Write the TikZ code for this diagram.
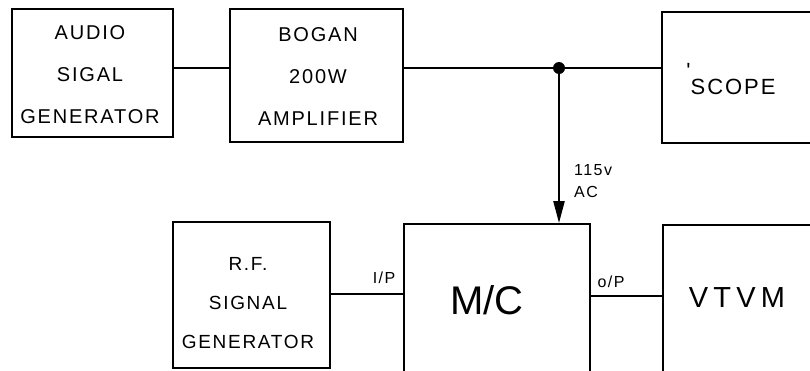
\documentclass[tikz,border=0pt]{standalone}
\usepackage{fontspec}
\setmainfont{Liberation Sans}
\newfontfamily\hand[LetterSpace=9]{Liberation Sans}
\newfontfamily\handwide[LetterSpace=18]{Liberation Sans}
\usetikzlibrary{arrows.meta}
\begin{document}
\begin{tikzpicture}[x=1pt,y=-1pt,
  blk/.style={draw,line width=1.8pt,inner sep=0pt},
  wire/.style={line width=2.8pt},
  lbl/.style={font=\hand\fontsize{20}{42}\selectfont,align=center,inner sep=0pt},
  small/.style={font=\hand\fontsize{16}{22}\selectfont,align=left,inner sep=0pt}]
\clip (0,0) rectangle (810,370);
\fill[white] (0,0) rectangle (810,370);
% boxes
\node[blk,minimum width=161pt,minimum height=128pt] (audio) at (92.5,73) {};
\node[blk,minimum width=173pt,minimum height=133pt] (bogan) at (316.5,75.5) {};
\node[blk,minimum width=170pt,minimum height=131pt] (scope) at (747,77.5) {};
\node[blk,minimum width=157pt,minimum height=146pt] (rf) at (251.5,295) {};
\node[blk,minimum width=186pt,minimum height=150pt] (mc) at (497,299) {};
\node[blk,minimum width=170pt,minimum height=150pt] (vtvm) at (748,300) {};
% texts
\node[lbl] (taudio) at (90,75) {AUDIO\\SIGAL\\GENERATOR};
\node[lbl] (tbogan) at (318,77) {BOGAN\\200W\\AMPLIFIER};
\node[lbl,font=\hand\fontsize{22}{24}\selectfont] (tscope) at (731,79) {\raisebox{16pt}{'}SCOPE};
\node[lbl,font=\hand\fontsize{19}{39}\selectfont] (trf) at (248,303) {R.F.\\SIGNAL\\GENERATOR};
\node[lbl,font=\fontsize{40}{44}\selectfont] (tmc) at (487,300) {M/C};
\node[lbl,font=\handwide\fontsize{29}{30}\selectfont] (tvtvm) at (737,298) {VTVM};
% junction
\coordinate (j) at (559,68);
\draw[wire] (audio.east |- j) -- (bogan.west |- j);
\draw[wire] (bogan.east |- j) -- (j) -- (scope.west |- j);
\fill (j) circle (6pt);
\draw[line width=2.2pt,-{Triangle[length=22pt,width=11pt]}] (j) -- (j |- mc.north);
\node[small,anchor=west] (tac) at (574,181) {115v\\AC};
% i/p and o/p
\coordinate (ip) at (0,294);
\coordinate (op) at (0,296);
\draw[wire] (rf.east |- ip) -- (mc.west |- ip);
\draw[wire] (mc.east |- op) -- (vtvm.west |- op);
\node[small] (tip) at (384,278) {I/P};
\node[small] (top) at (611,282) {o/P};
\end{tikzpicture}
\end{document}
